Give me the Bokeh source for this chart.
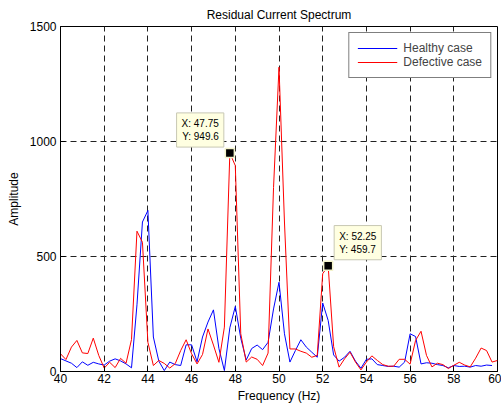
from bokeh.plotting import figure
from bokeh.models import Range1d, Label, FixedTicker, ColumnDataSource
from bokeh.embed import file_html
from bokeh.resources import INLINE

nan = float("nan")

freq = [40.00, 40.25, 40.50, 40.75, 41.00, 41.25, 41.50, 41.75,
        42.00, 42.25, 42.50, 42.75, 43.00, 43.25, 43.50, 43.75,
        44.00, 44.25, 44.50, 44.75, 45.00, 45.25, 45.50, 45.75,
        46.00, 46.25, 46.50, 46.75, 47.00, 47.25, 47.50, 47.75,
        48.00, 48.25, 48.50, 48.75, 49.00, 49.25, 49.50, 49.75,
        50.00, 50.25, 50.50, 50.75, 51.00, 51.25, 51.50, 51.75,
        52.00, 52.25, 52.50, 52.75, 53.00, 53.25, 53.50, 53.75,
        54.00, 54.25, 54.50, 54.75, 55.00, 55.25, 55.50, 55.75,
        56.00, 56.25, 56.50, 56.75, 57.00, 57.25, 57.50, 57.75,
        58.00, 58.25, 58.50, 58.75, 59.00, 59.25, 59.50, 59.75,
        60.00]

healthy = [56, 46, 36, 17, 42, 27, 40, 33,
           28, 45, 55, 46, 33, 16, 290, 650,
           700, 150, 45, 4, 41, 30, 26, 116,
           116, 42, 150, 215, 268, 100, 4, 190,
           283, 145, 50, 100, 115, 95, 127, 272,
           388, 164, 41, 91, 138, 106, 84, 62,
           298, 222, 72, 45, 62, 88, 45, 14,
           53, 55, 30, 26, 22, 23, 19, 41,
           164, 152, 33, 38, 36, 30, 26, 16,
           26, 22, 23, 19, 26, 23, 28, 26,
           nan]

defective = [77, 52, 106, 135, 81, 78, 145, 70,
             15, 40, 17, 57, 36, 139, 610, 562,
             127, 26, 48, 35, 15, 34, 91, 138,
             77, 33, 74, 185, 115, 40, 193, 949.6,
             895, 164, 41, 63, 53, 26, 80, 800,
             1323, 650, 98, 98, 88, 80, 62, 70,
             425, 459.7, 108, 19, 55, 84, 41, 7,
             41, 68, 48, 30, 23, 23, 53, 53,
             32, 135, 175, 70, 20, 36, 30, 13,
             27, 40, 28, 20, 58, 102, 91, 41,
             48]

series_names = ["Healthy case", "Defective case"]
series_colors = ["#0000FF", "#FF0000"]

tip_x = [47.75, 52.25]
tip_y = [949.6, 459.7]

x_ticks = [40, 42, 44, 46, 48, 50, 52, 54, 56, 58, 60]
y_ticks = [0, 500, 1000, 1500]

FONT = "Liberation Sans"

p = figure(width=501, height=407, output_backend="svg", toolbar_location=None,
           x_range=Range1d(40, 60), y_range=Range1d(0, 1500),
           min_border_left=60, min_border_right=4, min_border_top=26,
           min_border_bottom=36, title="Residual Current Spectrum",
           background_fill_color="white", border_fill_color="white")

p.title.align = "center"
p.title.text_font = FONT
p.title.text_font_size = "12px"
p.title.text_font_style = "normal"
p.title.text_color = "black"

p.outline_line_color = "black"
p.outline_line_width = 1

for ax in (p.xaxis[0], p.yaxis[0]):
    ax.major_tick_in = 5
    ax.major_tick_out = 0
    ax.minor_tick_in = 0
    ax.minor_tick_out = 0
    ax.axis_line_color = "black"
    ax.major_tick_line_color = "black"
    ax.major_label_text_font = FONT
    ax.major_label_text_font_size = "12px"
    ax.major_label_text_color = "black"
    ax.axis_label_text_font = FONT
    ax.axis_label_text_font_size = "12px"
    ax.axis_label_text_font_style = "normal"
    ax.axis_label_text_color = "black"

p.xaxis[0].ticker = FixedTicker(ticks=x_ticks)
p.yaxis[0].ticker = FixedTicker(ticks=y_ticks)
p.xaxis[0].axis_label = "Frequency (Hz)"
p.yaxis[0].axis_label = "Amplitude"
p.xaxis[0].major_label_standoff = 2
p.xaxis[0].axis_label_standoff = 3
p.yaxis[0].major_label_standoff = 4
p.yaxis[0].axis_label_standoff = 6

p.xgrid.ticker = FixedTicker(ticks=x_ticks)
p.ygrid.ticker = FixedTicker(ticks=y_ticks)
for g in (p.xgrid[0], p.ygrid[0]):
    g.grid_line_color = "#222222"
    g.grid_line_dash = "6 4"
    g.grid_line_width = 1

src = ColumnDataSource(dict(f=freq, h=healthy, d=defective))
p.line("f", "h", source=src, color=series_colors[0], line_width=1,
       legend_label=series_names[0])
p.line("f", "d", source=src, color=series_colors[1], line_width=1,
       legend_label=series_names[1])

p.scatter(tip_x, tip_y, marker="square", size=9, fill_color="black",
          line_color="#f4f4cc", line_width=1.5)

tip_props = dict(text_font=FONT, text_font_size="10px", text_color="black",
                 background_fill_color="#FFFFE1", border_line_color="#c8c8b4",
                 border_line_width=1, padding=5, y_offset=6)
p.add_layout(Label(x=tip_x[0], y=tip_y[0], x_offset=-6,
                   text="X: %.2f\nY: %.1f" % (tip_x[0], tip_y[0]),
                   text_align="right", text_baseline="bottom", **tip_props))
p.add_layout(Label(x=tip_x[1], y=tip_y[1], x_offset=6,
                   text="X: %.2f\nY: %.1f" % (tip_x[1], tip_y[1]),
                   text_align="left", text_baseline="bottom", **tip_props))

lg = p.legend[0]
lg.location = "top_right"
lg.margin = 6
lg.padding = 8
lg.spacing = 0
lg.label_height = 14
lg.glyph_height = 14
lg.glyph_width = 40
lg.label_standoff = 6
lg.label_text_font = FONT
lg.label_text_font_size = "12px"
lg.border_line_color = "black"
lg.border_line_width = 1
lg.background_fill_color = "white"
lg.background_fill_alpha = 1

open("out.html", "w").write(file_html(p, INLINE))
